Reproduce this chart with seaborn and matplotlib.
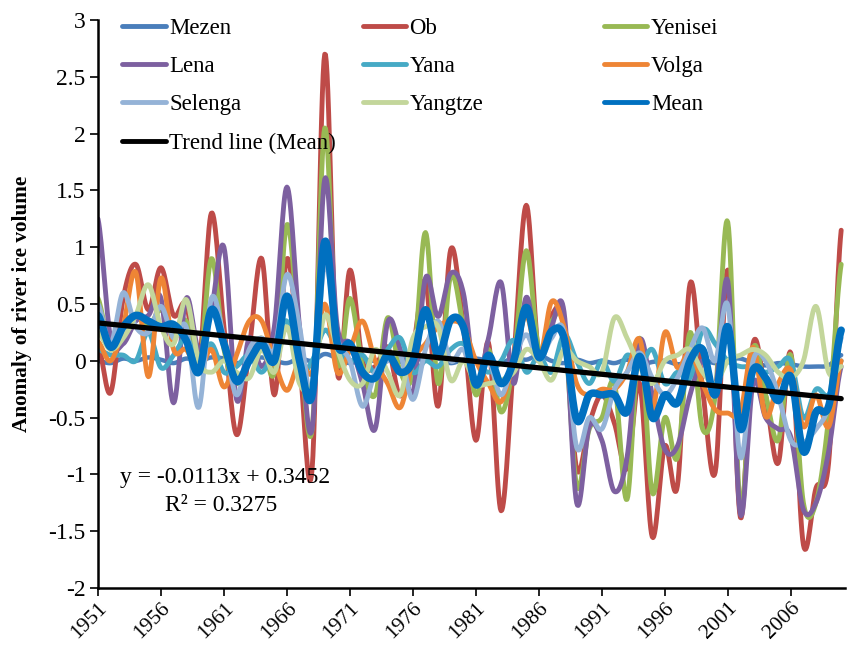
import numpy as np
import pandas as pd
import matplotlib
matplotlib.use("Agg")
import matplotlib.pyplot as plt
import seaborn as sns
from matplotlib.ticker import FuncFormatter

# Daten, Jahre 1951-2010
years = list(range(1951, 2011))

mezen = [0.0, -0.02, 0.02, 0.0, 0.03, 0.01, -0.02, 0.02, 0.0, 0.03,
         0.02, -0.02, 0.01, 0.03, 0.0, -0.02, 0.02, 0.0, 0.06, 0.02,
         -0.02, 0.01, 0.0, 0.02, -0.01, 0.03, 0.0, 0.02, -0.02, 0.01,
         0.02, 0.0, -0.02, 0.03, 0.01, 0.05, 0.0, -0.02, 0.01, -0.02,
         0.0, -0.02, 0.01, -0.03, -0.01, 0.0, -0.03, -0.01, 0.01, -0.02,
         0.01, 0.02, -0.02, -0.04, -0.02, -0.03, -0.05, -0.05, -0.04, 0.05]

ob = [0.15, -0.28, 0.55, 0.85, 0.45, 0.82, 0.4, 0.5, -0.05, 1.3,
      0.3, -0.65, 0.1, 0.9, -0.3, 0.9, 0.0, -0.95, 2.7, -0.1,
      0.8, 0.0, -0.05, 0.12, -0.31, 0.1, 0.7, -0.4, 0.98, 0.3,
      -0.7, 0.16, -1.32, 0.0, 1.37, 0.05, 0.4, 0.35, -0.95, -0.55,
      -0.3, -0.55, -0.95, -0.2, -1.55, -0.75, -1.1, 0.68, -0.25, -0.98,
      0.8, -1.38, 0.15, -0.3, -0.9, 0.07, -1.62, -1.12, -0.9, 1.15]

yenisei = [0.55, 0.1, 0.3, 0.4, 0.3, 0.45, 0.25, 0.35, -0.1, 0.9,
           0.1, -0.2, 0.0, 0.2, -0.1, 1.2, 0.2, -0.6, 2.05, 0.0,
           0.55, -0.05, -0.3, 0.38, -0.1, -0.1, 1.13, -0.2, 0.75, 0.3,
           -0.3, 0.1, -0.45, 0.0, 0.97, 0.1, 0.35, 0.3, -1.1, -0.6,
           -0.5, -0.2, -1.22, 0.2, -1.16, -0.5, -0.85, 0.25, -0.6, -0.3,
           1.22, -1.3, 0.1, -0.3, -0.7, 0.05, -1.25, -1.25, -0.5, 0.85]

lena = [1.25, 0.2, 0.15, 0.35, 0.4, 0.55, -0.37, 0.55, 0.1, 0.45,
        1.0, -0.34, 0.2, -0.05, 0.3, 1.53, 0.3, -0.6, 1.6, 0.3,
        0.15, -0.2, -0.6, 0.34, 0.1, -0.28, 0.73, 0.39, 0.77, 0.6,
        -0.2, 0.2, 0.69, -0.2, 0.56, 0.0, 0.3, 0.43, -1.25, -0.58,
        -0.7, -1.15, -0.85, 0.18, -0.3, -0.78, -0.75, -0.3, 0.0, -0.25,
        0.7, -1.35, -0.2, -0.5, -0.6, -0.67, -1.31, -1.25, -0.8, -0.05]

yana = [0.1, 0.05, 0.05, 0.0, 0.25, -0.06, 0.05, 0.2, 0.0, 0.15,
        -0.1, -0.05, 0.05, -0.1, 0.1, 0.35, -0.1, 0.0, 0.27, 0.1,
        0.0, 0.05, -0.1, 0.1, 0.2, -0.1, 0.0, -0.05, 0.1, 0.15,
        0.0, -0.1, 0.0, 0.18, -0.1, 0.05, -0.1, 0.23, 0.0, -0.2,
        0.0, -0.18, 0.05, -0.05, 0.1, -0.2, -0.1, -0.15, 0.27, 0.15,
        0.0, -0.05, -0.05, -0.1, -0.05, 0.0, -0.5, -0.25, -0.3, 0.0]

volga = [0.17, 0.0, 0.3, 0.78, -0.14, 0.73, 0.1, 0.1, -0.1, 0.1,
         -0.23, 0.05, 0.35, 0.35, 0.0, -0.26, 0.0, -0.1, 0.5, -0.1,
         0.1, 0.35, 0.0, -0.2, -0.41, 0.0, 0.15, 0.3, 0.35, 0.3,
         0.0, -0.2, -0.36, 0.0, 0.4, 0.0, 0.52, 0.3, -0.2, -0.3,
         -0.25, -0.25, -0.1, 0.19, -0.43, 0.25, -0.06, 0.08, -0.2, -0.43,
         -0.46, -0.45, 0.12, -0.49, -0.2, -0.08, -0.58, -0.3, -0.58, 0.0]

selenga = [0.5, 0.15, 0.6, 0.3, 0.25, 0.48, 0.2, 0.3, -0.41, 0.55,
           0.2, -0.3, 0.1, 0.2, 0.1, 0.76, 0.3, -0.3, 0.85, 0.2,
           0.0, -0.4, -0.1, 0.0, 0.05, -0.34, 0.1, 0.35, 0.0, 0.1,
           -0.2, 0.0, -0.3, 0.0, 0.23, 0.0, 0.2, 0.25, -0.76, -0.5,
           -0.6, -0.25, -0.1, 0.07, -0.15, -0.3, -0.15, 0.1, 0.29, 0.0,
           0.49, -0.85, 0.0, 0.0, -0.3, -0.7, -0.72, -0.6, -0.4, 0.2]

yangtze = [0.25, 0.1, 0.2, 0.4, 0.67, 0.3, 0.15, 0.54, 0.0, -0.1,
           0.0, -0.1, -0.15, 0.1, -0.1, 0.3, -0.2, -0.2, 0.4, 0.1,
           -0.17, -0.2, 0.1, -0.1, -0.3, 0.2, 0.3, 0.3, -0.17, 0.0,
           -0.2, -0.2, -0.17, -0.1, 0.1, 0.0, -0.17, 0.1, 0.0, -0.05,
           -0.1, 0.38, 0.2, -0.05, -0.2, 0.0, 0.05, 0.1, -0.1, -0.2,
           0.0, 0.05, 0.1, 0.05, -0.1, -0.15, 0.0, 0.48, -0.1, -0.05]

mean = [0.4, 0.12, 0.3, 0.4, 0.35, 0.3, 0.32, 0.18, -0.1, 0.45,
        0.15, -0.18, 0.0, 0.15, 0.0, 0.57, 0.0, -0.3, 1.05, 0.15,
        0.15, -0.1, -0.15, 0.05, -0.1, 0.0, 0.45, 0.05, 0.36, 0.3,
        -0.21, 0.05, -0.2, 0.0, 0.47, 0.03, 0.26, 0.2, -0.52, -0.3,
        -0.3, -0.3, -0.45, 0.04, -0.5, -0.3, -0.37, 0.0, 0.1, -0.3,
        0.3, -0.6, -0.08, -0.15, -0.35, -0.14, -0.8, -0.45, -0.4, 0.27]

# Trendlinie laut Gleichung in der Grafik (x = 1..60)
trend_slope = -0.0113
trend_intercept = 0.3452

xtick_years = list(range(1951, 2007, 5))
ytick_values = [-2, -1.5, -1, -0.5, 0, 0.5, 1, 1.5, 2, 2.5, 3]


def smooth(x, y, n=16):
    # glättet wie die "smoothed line" in Excel (Catmull-Rom Kurve)
    x = np.asarray(x, dtype=float)
    y = np.asarray(y, dtype=float)
    xs, ys = [], []
    for i in range(len(x) - 1):
        y0 = y[i - 1] if i > 0 else y[i]
        y3 = y[i + 2] if i + 2 < len(y) else y[i + 1]
        m1 = (y[i + 1] - y0) / 2
        m2 = (y3 - y[i]) / 2
        t = np.linspace(0, 1, n, endpoint=False)
        h00 = 2 * t**3 - 3 * t**2 + 1
        h10 = t**3 - 2 * t**2 + t
        h01 = -2 * t**3 + 3 * t**2
        h11 = t**3 - t**2
        xs.append(x[i] + t * (x[i + 1] - x[i]))
        ys.append(h00 * y[i] + h10 * m1 + h01 * y[i + 1] + h11 * m2)
    xs.append([x[-1]])
    ys.append([y[-1]])
    return np.concatenate(xs), np.concatenate(ys)


sns.set_theme(style="white")
plt.rcParams["font.family"] = ["Liberation Serif", "DejaVu Serif"]
plt.rcParams["axes.unicode_minus"] = False

fig = plt.figure(figsize=(8.47, 6.49), dpi=100)
ax = fig.add_axes([0.1157, 0.094, 0.8819, 0.875])

series = [
    ("Mezen", mezen, "#4A7EBB", 3.2),
    ("Ob", ob, "#BE4B48", 3.5),
    ("Yenisei", yenisei, "#98B954", 3.5),
    ("Lena", lena, "#7D60A0", 3.5),
    ("Yana", yana, "#46AAC5", 3.5),
    ("Volga", volga, "#EE8535", 3.5),
    ("Selenga", selenga, "#95B3D7", 3.5),
    ("Yangtze", yangtze, "#C3D69B", 3.5),
    ("Mean", mean, "#0070C0", 5.4),
]

handles = {}
for name, vals, col, lw in series:
    sx, sy = smooth(years, vals)
    sns.lineplot(x=sx, y=sy, ax=ax, color=col, linewidth=lw, sort=False,
                 estimator=None, solid_capstyle="round")
    handles[name] = ax.lines[-1]

# Trendlinie
idx = np.arange(1, len(years) + 1)
trend = trend_slope * idx + trend_intercept
sns.lineplot(x=years, y=trend, ax=ax, color="black", linewidth=3.8,
             estimator=None)
handles["Trend line (Mean)"] = ax.lines[-1]

ax.set_xlim(1951, 2010.3)
ax.set_ylim(-2, 3)
ax.set_xticks(xtick_years)
ax.set_xticklabels([str(y) for y in xtick_years], rotation=45, ha="right",
                   rotation_mode="anchor", fontsize=15.5)
ax.set_yticks(ytick_values)
ax.yaxis.set_major_formatter(FuncFormatter(lambda v, p: f"{v:g}"))
ax.tick_params(axis="y", labelsize=17, direction="out", length=6,
               width=1.2, color="black", left=True, pad=3)
ax.tick_params(axis="x", direction="out", length=6, width=1.2,
               color="black", bottom=True, pad=2)
for lab in ax.get_xticklabels() + ax.get_yticklabels():
    lab.set_color("black")

sns.despine(ax=ax)
ax.spines["left"].set_color("black")
ax.spines["bottom"].set_color("black")
ax.spines["left"].set_linewidth(1.8)
ax.spines["bottom"].set_linewidth(1.8)

ax.set_ylabel("Anomaly of river ice volume", fontsize=15.3, fontweight="bold",
              color="black", labelpad=12)
ax.set_xlabel("")

# Legende: drei Spalten, wie in Excel gleichmaessig verteilt
columns = [["Mezen", "Lena", "Selenga", "Trend line (Mean)"],
           ["Ob", "Yana", "Yangtze"],
           ["Yenisei", "Volga", "Mean"]]
col_x = [0.02, 0.342, 0.665]
for i, names in enumerate(columns):
    hs = []
    for nm in names:
        h = handles[nm]
        hs.append(plt.Line2D([], [], color=h.get_color(),
                             linewidth=3.5, solid_capstyle="round"))
    leg = ax.legend(hs, names, loc="upper left",
                    bbox_to_anchor=(col_x[i], 1.02), frameon=False,
                    fontsize=16.5, handlelength=1.9, handletextpad=0.15,
                    labelspacing=0.75, borderaxespad=0)
    for t in leg.get_texts():
        t.set_color("black")
    if i < len(columns) - 1:
        ax.add_artist(leg)

ax.text(0.03, 0.194, "y = -0.0113x + 0.3452", transform=ax.transAxes,
        fontsize=17, va="center", ha="left", color="black")
ax.text(0.09, 0.146, "R² = 0.3275", transform=ax.transAxes,
        fontsize=17, va="center", ha="left", color="black")

fig.savefig("out.png", dpi=100)
